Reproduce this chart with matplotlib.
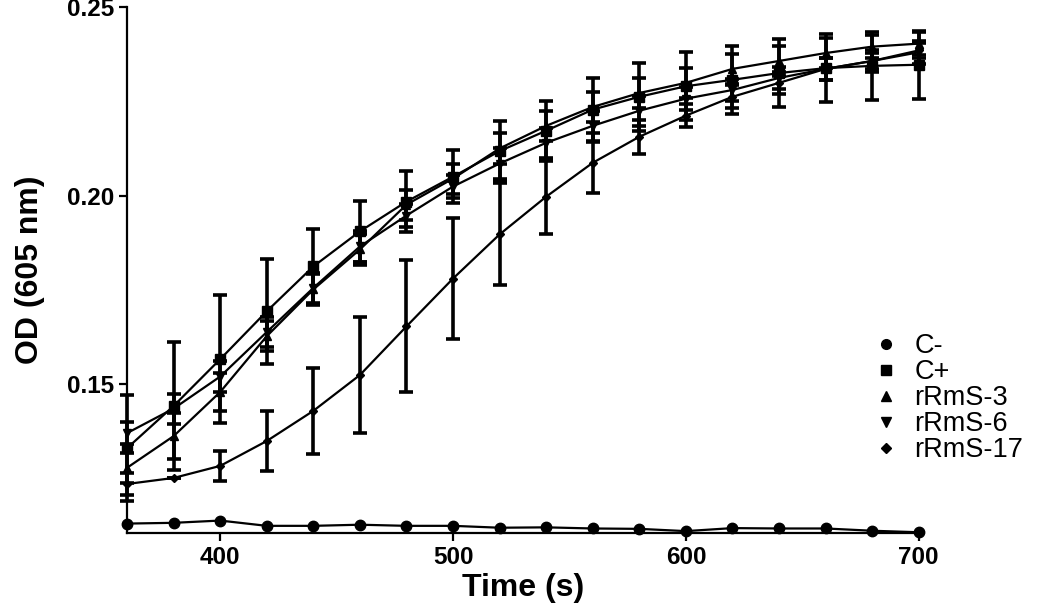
import matplotlib
matplotlib.use("Agg")
import matplotlib.pyplot as plt
from matplotlib.lines import Line2D

plt.rcParams['font.family'] = ['Liberation Sans', 'DejaVu Sans']

time_s = [360, 380, 400, 420, 440, 460, 480, 500, 520, 540, 560, 580, 600, 620, 640, 660, 680, 700]

c_neg = [0.1130, 0.1132, 0.1138, 0.1124, 0.1124, 0.1127, 0.1124, 0.1124, 0.1119, 0.1120,
         0.1117, 0.1116, 0.1110, 0.1118, 0.1117, 0.1117, 0.1111, 0.1107]
c_pos = [0.1330, 0.1442, 0.1566, 0.1693, 0.1812, 0.1905, 0.1984, 0.2050, 0.2118, 0.2172,
         0.2228, 0.2262, 0.2290, 0.2307, 0.2325, 0.2338, 0.2344, 0.2347]
c_pos_err = [0.014, 0.017, 0.017, 0.014, 0.010, 0.008, 0.008, 0.007, 0.008, 0.008,
             0.0085, 0.009, 0.009, 0.009, 0.009, 0.009, 0.009, 0.009]
rrms3 = [0.1278, 0.1362, 0.1479, 0.1627, 0.1751, 0.1857, 0.1976, 0.2045, 0.2125, 0.2185,
         0.2235, 0.2272, 0.2299, 0.2336, 0.2357, 0.2378, 0.2395, 0.2403]
rrms3_err = [0.004, 0.006, 0.005, 0.004, 0.004, 0.004, 0.004, 0.004, 0.004, 0.004,
             0.004, 0.004, 0.004, 0.004, 0.004, 0.004, 0.003, 0.003]
rrms6 = [0.1370, 0.1435, 0.1520, 0.1638, 0.1755, 0.1865, 0.1947, 0.2024, 0.2085, 0.2140,
         0.2185, 0.2225, 0.2257, 0.2280, 0.2312, 0.2336, 0.2357, 0.2380]
rrms6_err = [0.003, 0.004, 0.004, 0.004, 0.004, 0.004, 0.003, 0.003, 0.004, 0.004,
             0.004, 0.004, 0.003, 0.003, 0.003, 0.003, 0.003, 0.003]
rrms17 = [0.1235, 0.1251, 0.1283, 0.1349, 0.1429, 0.1524, 0.1653, 0.1780, 0.1897, 0.1997,
          0.2087, 0.2156, 0.2212, 0.2262, 0.2299, 0.2336, 0.2357, 0.2385]
rrms17_err = [0.003, 0.0, 0.004, 0.008, 0.0114, 0.0154, 0.0175, 0.016, 0.0135, 0.0098,
              0.008, 0.0045, 0.003, 0.003, 0.003, 0.003, 0.002, 0.002]

labels = ['C-', 'C+', 'rRmS-3', 'rRmS-6', 'rRmS-17']

fig = plt.figure(figsize=(10.5, 6.13), dpi=100)
ax = fig.add_axes([0.121, 0.1305, 0.754, 0.858])

ebkw = dict(color='black', lw=1.6, elinewidth=2.6, capsize=5, capthick=2.6)
series = [(rrms17, rrms17_err, 'D', 4), (rrms6, rrms6_err, 'v', 6),
          (rrms3, rrms3_err, '^', 6), (c_pos, c_pos_err, 's', 6.5)]
for vals, errs, m, sz in series:
    cont = ax.errorbar(time_s, vals, yerr=errs, marker=m, ms=sz, **ebkw)
    for art in cont.get_children():
        art.set_clip_on(False)
ax.plot(time_s, c_neg, color='black', lw=1.6, marker='o', ms=7.5, clip_on=False, zorder=5)

ax.set_xlim(360, 700)
ax.set_ylim(0.1105, 0.25)
ax.set_xticks([400, 500, 600, 700])
ax.set_yticks([0.15, 0.20, 0.25])
ax.set_yticklabels(['0.15', '0.20', '0.25'])
for s in ['top', 'right']:
    ax.spines[s].set_visible(False)
for s in ['left', 'bottom']:
    ax.spines[s].set_linewidth(1.6)
ax.tick_params(direction='out', length=6, width=1.6, labelsize=17.5, pad=3)
for t in ax.get_xticklabels() + ax.get_yticklabels():
    t.set_fontweight('bold')

ax.set_xlabel('Time (s)', fontsize=23, fontweight='bold', labelpad=3)
ax.set_ylabel('OD (605 nm)', fontsize=23, fontweight='bold', labelpad=16)

markers = ['o', 's', '^', 'v', 'D']
sizes = [7, 6.5, 6.5, 6.5, 5]
handles = [Line2D([], [], color='black', ls='none', marker=m, ms=sz) for m, sz in zip(markers, sizes)]
ax.legend(handles, labels, loc='upper left', bbox_to_anchor=(0.928, 0.40), frameon=False,
          fontsize=19.5, handlelength=1.0, handletextpad=0.55, labelspacing=0.0, borderaxespad=0)

fig.savefig('out.png', dpi=100)
